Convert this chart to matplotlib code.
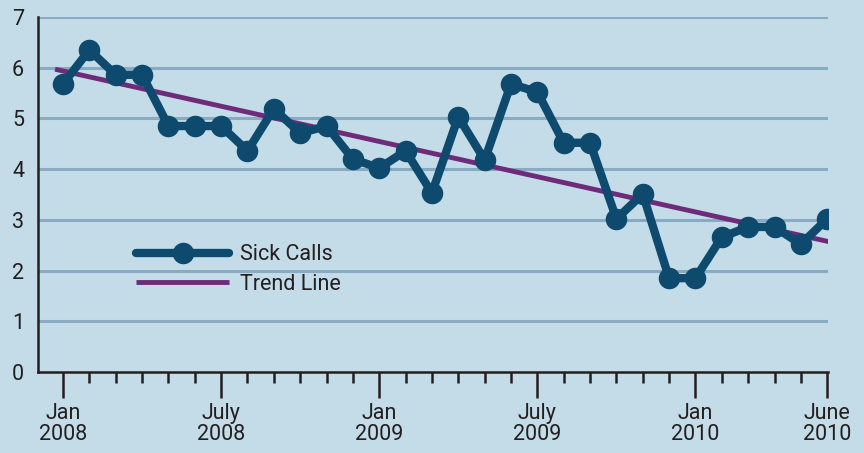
import matplotlib.pyplot as plt

# Data: monthly sick calls, Jan 2008 - June 2010
months = list(range(30))
sick_calls = [5.68, 6.35, 5.86, 5.86, 4.85, 4.85, 4.85, 4.36, 5.19, 4.71,
              4.85, 4.20, 4.02, 4.36, 3.53, 5.03, 4.18, 5.68, 5.52, 4.52,
              4.52, 3.02, 3.51, 1.85, 1.85, 2.66, 2.86, 2.86, 2.52, 3.02]
trend_x = [-0.3, 29.15]
trend_y = [5.97, 2.56]

major_pos = [0, 6, 12, 18, 24, 29]
major_labels = ['Jan\n2008', 'July\n2008', 'Jan\n2009', 'July\n2009', 'Jan\n2010', 'June\n2010']

bg = '#c4dbe8'
navy = '#0d4a6e'
purple = '#6e2b7a'
txt = '#231f20'

plt.rcParams['font.family'] = ['Roboto', 'DejaVu Sans']

fig = plt.figure(figsize=(8.64, 4.53), dpi=100, facecolor=bg)
ax = fig.add_axes([38/864, 1-372/453, 790/864, 355/453])
ax.set_facecolor(bg)

for y in range(1, 8):
    ax.axhline(y, color='#88aac2', lw=2.2, zorder=1)

ax.plot(trend_x, trend_y, color=purple, lw=3.5, solid_capstyle='butt', zorder=2, label='Trend Line')
ax.plot(months, sick_calls, color=navy, lw=6, marker='o', markersize=14.5,
        solid_joinstyle='round', solid_capstyle='round', zorder=3, label='Sick Calls')

ax.set_xlim(-0.95, 29.03)
ax.set_ylim(0, 7)

for s in ['top', 'right']:
    ax.spines[s].set_visible(False)
for s in ['left', 'bottom']:
    ax.spines[s].set_color(txt)
    ax.spines[s].set_linewidth(1.8)

ax.set_yticks(range(8))
ax.tick_params(axis='y', length=0, pad=10, labelsize=15.5, labelcolor=txt)

ax.set_xticks(major_pos)
ax.set_xticklabels(major_labels, fontsize=15.5, color=txt, linespacing=1.0)
ax.set_xticks([m for m in months if m not in major_pos], minor=True)
ax.tick_params(axis='x', which='major', length=19, width=1.8, color=txt, pad=3)
ax.tick_params(axis='x', which='minor', length=8, width=1.8, color=txt)

handles, labels = ax.get_legend_handles_labels()
leg = ax.legend(handles[::-1], labels[::-1], loc='upper left', bbox_to_anchor=(0.1, 0.415),
                frameon=False, fontsize=15.5, handlelength=4.3, labelspacing=0.4,
                handletextpad=0.5, labelcolor=txt)

fig.savefig('out.png', dpi=100, facecolor=bg)
